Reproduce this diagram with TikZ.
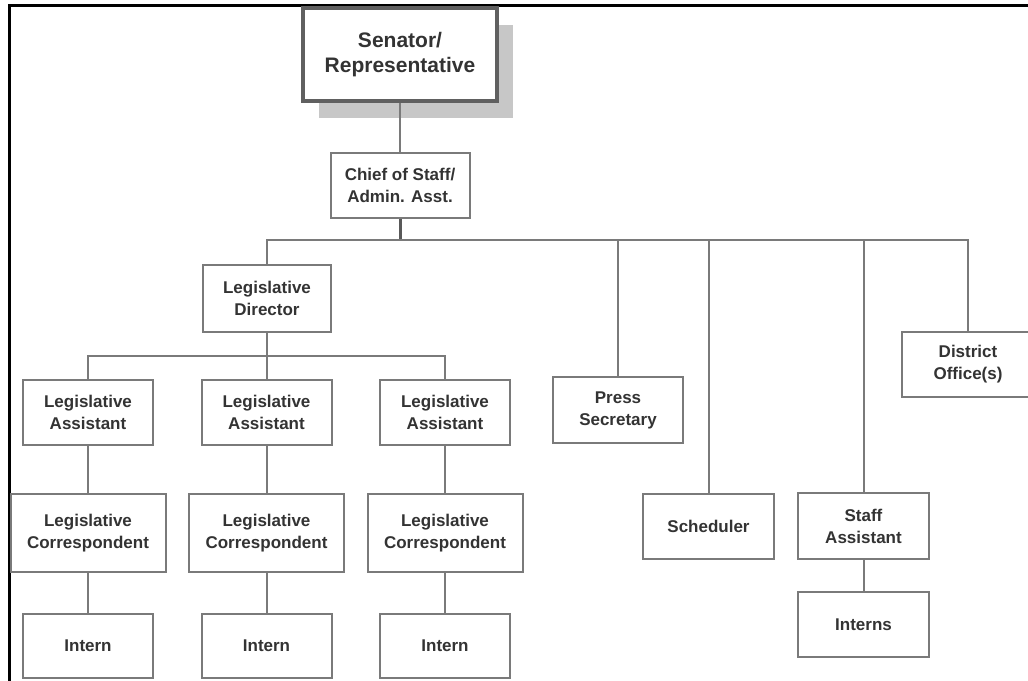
\documentclass[tikz,border=0pt]{standalone}
\usepackage{fontspec}
\setmainfont{Liberation Sans}
\usetikzlibrary{positioning, shadows}
\definecolor{boxline}{HTML}{7A7A7A}
\definecolor{txt}{HTML}{333333}

\begin{document}
\begin{tikzpicture}[x=1pt,y=-1pt,on grid,
	post/.style={draw=boxline, line width=2pt, fill=white, align=center, inner sep=0pt,
		minimum width=130pt, minimum height=65pt, text=txt,
		font=\fontsize{17}{22}\selectfont\bfseries},
	wide/.style={post, minimum width=155pt, minimum height=78pt},
	link/.style={draw=boxline, line width=2pt}]
	\useasboundingbox (0,0) rectangle (1028,680);
	\fill[white] (0,0) rectangle (1028,680);
	\draw[line width=3pt] (9,681) |- (1029,5);

	% top of the office
	\node[post, minimum width=194pt, minimum height=93pt, line width=3.5pt, draw=gray!75!black,
		font=\fontsize{21}{25}\selectfont\bfseries,
		drop shadow={shadow xshift=16pt, shadow yshift=-17pt, fill=black!22, opacity=1}]
		(sen) at (400,54.5) {Senator/\\Representative};
	\node[post, minimum width=139pt] (chief) at (400,185.5) {Chief of Staff/\\Admin. Asst.};
	\coordinate (bus) at (400,240);

	% legislative side
	\node[post, minimum width=128pt, minimum height=67pt] (legdir) at (267,298.5) {Legislative\\Director};
	\coordinate (ldbus) at (267,356);
	\node[post] (la1) at (88,412.5) {Legislative\\Assistant};
	\node[post] (la2) at (266.5,412.5) {Legislative\\Assistant};
	\node[post] (la3) at (445,412.5) {Legislative\\Assistant};
	\node[wide, below=120.5pt of la1] (lc1) {Legislative\\Correspondent};
	\node[wide, below=120.5pt of la2] (lc2) {Legislative\\Correspondent};
	\node[wide, below=120.5pt of la3] (lc3) {Legislative\\Correspondent};
	\node[post, minimum height=64pt, below=113pt of lc1] (int1) {Intern};
	\node[post, minimum height=64pt, below=113pt of lc2] (int2) {Intern};
	\node[post, minimum height=64pt, below=113pt of lc3] (int3) {Intern};

	% other staff
	\node[post, minimum height=66pt] (press) at (618,410) {Press\\Secretary};
	\node[post, minimum width=131pt] (sched) at (708.5,526.5) {Scheduler};
	\node[post, minimum width=131pt, minimum height=66pt] (staff) at (863.5,526) {Staff\\Assistant};
	\node[post, minimum width=131pt, below=98.5pt of staff] (interns) {Interns};
	\node[post, minimum width=132pt] (district) at (968,364.5) {District\\Office(s)};

	% connectors
	\draw[link] (sen) -- (chief);
	\draw[link, line width=3pt, draw=gray!70!black] (chief) -- (bus);
	\foreach \n in {legdir,press,sched,staff,district}
		\draw[link] (bus) -| (\n.north);
	\draw[link] (legdir) -- (ldbus);
	\foreach \n in {la1,la2,la3}
		\draw[link] (ldbus) -| (\n.north);
	\foreach \n in {1,2,3} {
		\draw[link] (la\n) -- (lc\n);
		\draw[link] (lc\n) -- (int\n);
	}
	\draw[link] (staff) -- (interns);
\end{tikzpicture}
\end{document}
